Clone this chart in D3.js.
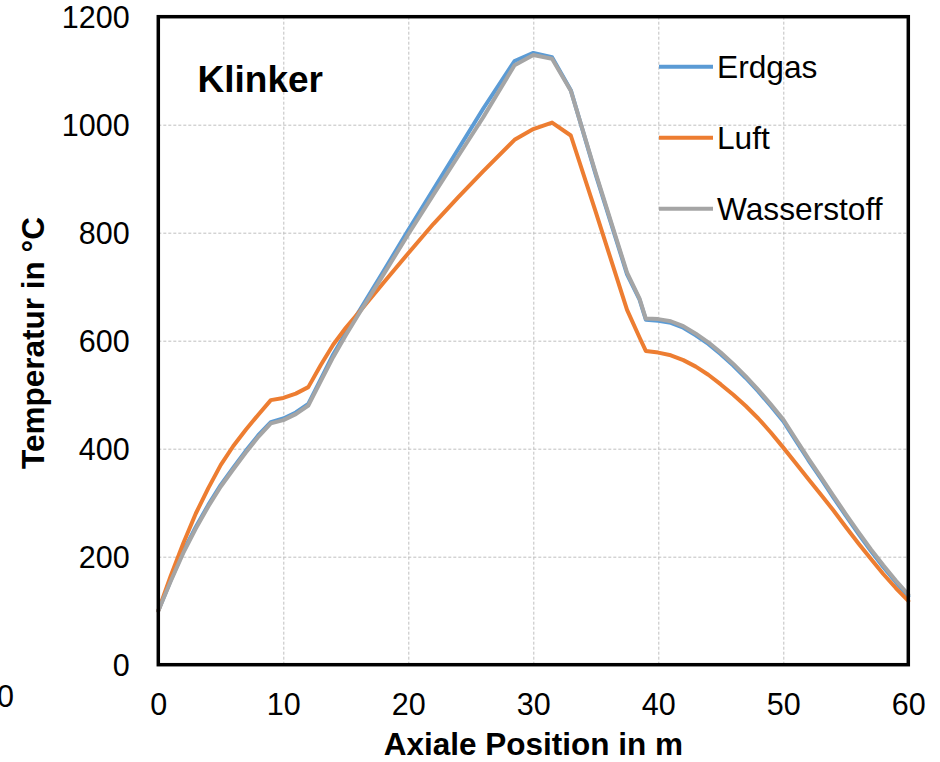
<!DOCTYPE html>
<html>
<head>
<meta charset="utf-8">
<script src="https://cdn.jsdelivr.net/npm/d3@7"></script>
<style>
  html, body { margin: 0; padding: 0; background: #fff; }
  svg { display: block; font-family: "Liberation Sans", Arial, sans-serif; }
</style>
</head>
<body>
<svg id="chart" width="940" height="762"></svg>
<script>
// Axial position along the kiln (m)
const positions = [0,1,2,3,4,5,6,7,8,9,10,11,12,13,14,15,16,18,20,22,24,26,28.5,30,31.5,33,35,37.5,38.5,39,
  40,41,42,43,44,45,46,47,48,49,50,51,52,53,54,55,56,57,58,59,60];

// Clinker temperature (°C) per fuel case
const erdgas = [100,157,210,255,296,333,365,396,425,449,456,467,483,529,575,614,652,728,805,880,955,1030,1118,1133,1125,1064,907,723,676,639,
  637,633,624,610,594,575,554,531,506,479,451,415,379,345,310,276,243,211,181,153,127];
const luft = [100,165,225,280,327,370,405,435,463,490,494,502,514,555,593,624,651,707,762,816,866,914,972,992,1004,980,838,657,606,581,
  578,573,564,552,537,519,500,479,456,430,402,373,344,315,286,255,225,196,168,142,118];
const wasserstoff = [100,155,207,252,293,330,362,393,422,447,453,464,480,525,570,610,648,722,797,870,942,1014,1110,1129,1122,1063,910,726,678,641,
  640,636,627,613,597,578,557,534,509,482,454,418,382,348,313,279,246,214,184,156,130];

const seriesNames = ["Erdgas", "Luft", "Wasserstoff"];
const seriesValues = [erdgas, luft, wasserstoff];
const seriesColors = ["#5B9BD5", "#ED7D31", "#A5A5A5"];

const xTicks = [0,10,20,30,40,50,60];
const yTicks = [0,200,400,600,800,1000,1200];

const svg = d3.select("#chart");
const plotL = 158.3, plotR = 908.3, plotT = 16.7, plotB = 664.7;
const W = plotR - plotL, H = plotB - plotT;

const x = d3.scaleLinear().domain([0, 60]).range([plotL, plotR]);
const y = d3.scaleLinear().domain([0, 1200]).range([plotB, plotT]);

// dashed grid
const grid = svg.append("g");
grid.append("g")
  .attr("transform", `translate(0,${plotB})`)
  .call(d3.axisBottom(x).tickValues(xTicks.slice(1, -1)).tickSize(-H).tickFormat(""))
  .call(g => g.select(".domain").remove());
grid.append("g")
  .attr("transform", `translate(${plotL},0)`)
  .call(d3.axisLeft(y).tickValues(yTicks.slice(1, -1)).tickSize(-W).tickFormat(""))
  .call(g => g.select(".domain").remove());
grid.selectAll("line")
  .attr("stroke", "#BFBFBF").attr("stroke-width", 1).attr("stroke-dasharray", "3,2");

// tick labels
const xAxis = svg.append("g")
  .attr("transform", `translate(0,${plotB})`)
  .call(d3.axisBottom(x).tickValues(xTicks).tickSize(0).tickFormat(d3.format("d")));
xAxis.select(".domain").remove();
xAxis.selectAll("text")
  .attr("y", 50.3).attr("dy", 0)
  .attr("font-size", 30.5).attr("fill", "#000").attr("font-family", "Liberation Sans, Arial, sans-serif");

const yAxis = svg.append("g")
  .attr("transform", `translate(${plotL},0)`)
  .call(d3.axisLeft(y).tickValues(yTicks).tickSize(0).tickFormat(d3.format("d")));
yAxis.select(".domain").remove();
yAxis.selectAll("text")
  .attr("x", -28.7).attr("dy", "0.35em")
  .attr("font-size", 30.5).attr("fill", "#000").attr("font-family", "Liberation Sans, Arial, sans-serif");

// temperature curves
const line = d3.line()
  .x((d, i) => x(positions[i]))
  .y(d => y(d));

seriesValues.forEach((vals, k) => {
  svg.append("path")
    .datum(vals)
    .attr("d", line)
    .attr("fill", "none")
    .attr("stroke", seriesColors[k])
    .attr("stroke-width", 4)
    .attr("stroke-linejoin", "round")
    .attr("stroke-linecap", "round");
});

// plot frame
svg.append("rect")
  .attr("x", plotL).attr("y", plotT).attr("width", W).attr("height", H)
  .attr("fill", "none").attr("stroke", "#000").attr("stroke-width", 3.5);

// legend
const legend = svg.append("g");
seriesNames.forEach((name, k) => {
  const ly = 66.7 + k * 71;
  legend.append("line")
    .attr("x1", 659).attr("x2", 713).attr("y1", ly).attr("y2", ly)
    .attr("stroke", seriesColors[k]).attr("stroke-width", 4);
  legend.append("text")
    .attr("x", 717).attr("y", ly).attr("dy", "0.35em")
    .attr("font-size", 31.7).attr("fill", "#000")
    .text(name);
});

// panel title
svg.append("text")
  .attr("x", 197.5).attr("y", 92)
  .attr("font-size", 37).attr("font-weight", "bold")
  .text("Klinker");

// axis titles
svg.append("text")
  .attr("x", (plotL + plotR) / 2).attr("y", 755)
  .attr("text-anchor", "middle")
  .attr("font-size", 31.5).attr("font-weight", "bold")
  .text("Axiale Position in m");

svg.append("text")
  .attr("transform", "translate(44,343) rotate(-90)")
  .attr("text-anchor", "middle")
  .attr("font-size", 31.5).attr("font-weight", "bold")
  .text("Temperatur in °C");

// clipped label at the left edge
svg.append("text")
  .attr("x", 14).attr("y", 706.5)
  .attr("text-anchor", "end")
  .attr("font-size", 30.5)
  .text("0");
</script>
</body>
</html>
